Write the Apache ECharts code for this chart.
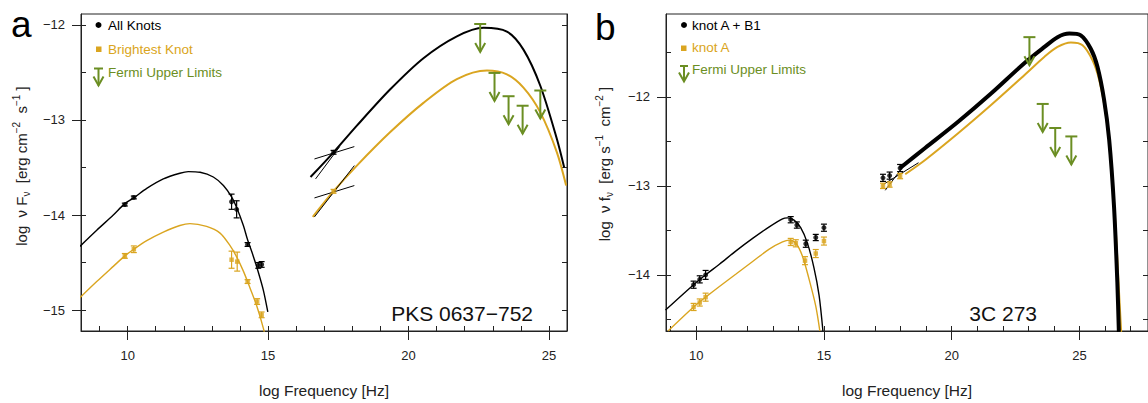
<!DOCTYPE html>
<html>
<head>
<meta charset="utf-8">
<script src="https://cdn.jsdelivr.net/npm/echarts@6/dist/echarts.min.js"></script>
<style>
  html, body { margin: 0; padding: 0; background: #fff; }
  #chart { width: 1148px; height: 403px; }
</style>
</head>
<body>
<div id="chart"></div>
<script>
// ---- panel a : PKS 0637-752 -------------------------------------------------
const aSyncAll = [[8.30,-14.33],[8.90,-14.16],[9.49,-14.00],[9.90,-13.88],[10.22,-13.82],[10.68,-13.72],[11.27,-13.62],[11.86,-13.56],[12.16,-13.543],[12.58,-13.55],[13.05,-13.60],[13.41,-13.69],[13.70,-13.81],[13.88,-13.92],[14.12,-14.11],[14.27,-14.26],[14.47,-14.43],[14.65,-14.60],[14.83,-14.79],[14.99,-15.02]];
const aSyncBright = [[8.30,-14.87],[8.90,-14.70],[9.49,-14.54],[9.90,-14.43],[10.22,-14.36],[10.68,-14.27],[11.27,-14.18],[11.86,-14.11],[12.22,-14.09],[12.81,-14.12],[13.29,-14.19],[13.64,-14.32],[13.88,-14.44],[14.12,-14.59],[14.36,-14.77],[14.60,-14.96],[14.83,-15.19],[14.95,-15.35]];
const aIcAll = [[16.51,-13.60],[17.33,-13.34],[18.16,-13.06],[19.34,-12.68],[20.53,-12.35],[21.72,-12.12],[22.67,-12.03],[23.50,-12.07],[24.09,-12.26],[24.69,-12.64],[25.28,-13.20],[25.54,-13.50]];
const aIcBright = [[16.59,-14.02],[17.33,-13.75],[18.16,-13.48],[19.34,-13.13],[20.53,-12.82],[21.72,-12.57],[22.79,-12.48],[23.50,-12.52],[24.09,-12.66],[24.69,-12.92],[25.28,-13.34],[25.61,-13.69]];

const aAllX = [9.90, 10.22, 13.70, 13.88, 14.27, 14.65, 14.77, 17.33];
const aAllY = [-13.89, -13.815, -13.86, -13.94, -14.31, -14.53, -14.52, -13.34];
const aAllErr = [0.015, 0.015, 0.08, 0.09, 0.02, 0.03, 0.03, 0.02];
const aBrightX = [9.90, 10.22, 13.70, 13.90, 14.27, 14.61, 14.77, 17.33];
const aBrightY = [-14.43, -14.36, -14.47, -14.49, -14.70, -14.91, -15.05, -13.75];
const aBrightErr = [0.025, 0.035, 0.09, 0.10, 0.02, 0.03, 0.03, 0.02];

// x-ray bowties: [x1, y1, x2, y2]
const aBowtie = [[16.65,-13.41,18.07,-13.28],[16.69,-13.62,17.55,-13.28],[16.65,-13.82,18.07,-13.69],[16.65,-14.02,18.07,-13.48]];

const aUlX = [22.55, 23.06, 23.56, 24.06, 24.69];
const aUlY = [-11.99, -12.505, -12.75, -12.85, -12.69];

// ---- panel b : 3C 273 -------------------------------------------------------
const bSyncAll = [[8.80,-14.395],[9.90,-14.11],[10.37,-14.00],[10.91,-13.88],[11.56,-13.73],[12.21,-13.59],[12.86,-13.46],[13.38,-13.37],[13.57,-13.36],[13.83,-13.385],[14.09,-13.47],[14.35,-13.64],[14.61,-13.92],[14.81,-14.23],[14.96,-14.63]];
const bSyncA = [[8.90,-14.63],[9.90,-14.36],[10.37,-14.25],[10.91,-14.13],[11.56,-13.99],[12.21,-13.85],[12.86,-13.71],[13.38,-13.63],[13.64,-13.61],[13.90,-13.645],[14.16,-13.79],[14.42,-14.05],[14.68,-14.35],[14.84,-14.63]];
const bIcAll = [[17.98,-12.80],[18.96,-12.575],[20.25,-12.28],[21.55,-11.96],[22.85,-11.62],[23.63,-11.44],[24.14,-11.33],[24.60,-11.29],[25.05,-11.31],[25.44,-11.46],[25.70,-11.66],[25.96,-12.03],[26.16,-12.48],[26.35,-13.23],[26.48,-14.08],[26.54,-14.64]];
const bIcA = [[18.18,-12.87],[18.96,-12.71],[20.25,-12.41],[21.55,-12.09],[22.85,-11.755],[23.63,-11.55],[24.14,-11.44],[24.66,-11.39],[25.12,-11.42],[25.51,-11.59],[25.77,-11.81],[26.02,-12.18],[26.22,-12.67],[26.41,-13.45],[26.54,-14.16],[26.63,-14.64]];

const bAllX = [9.90, 10.14, 10.37, 13.70, 13.94, 14.29, 14.68, 15.00, 17.31, 17.57, 17.98];
const bAllY = [-14.11, -14.05, -14.00, -13.38, -13.44, -13.65, -13.58, -13.47, -12.91, -12.885, -12.80];
const bAllErr = [0.04, 0.04, 0.05, 0.035, 0.035, 0.04, 0.035, 0.04, 0.04, 0.04, 0.04];
const bAX = [9.90, 10.14, 10.37, 13.70, 13.90, 14.26, 14.68, 15.00, 17.31, 17.57, 17.98];
const bAY = [-14.36, -14.31, -14.25, -13.63, -13.645, -13.84, -13.76, -13.62, -13.00, -12.985, -12.89];
const bAErr = [0.04, 0.04, 0.045, 0.04, 0.04, 0.045, 0.045, 0.045, 0.03, 0.03, 0.03];

const bBowtie = [[17.35,-12.98,18.70,-12.74],[17.40,-13.05,18.05,-12.80]];

const bUlX = [23.04, 23.56, 24.05, 24.68];
const bUlY = [-11.33, -12.08, -12.35, -12.445];

// ---- ticks -------------------------------------------------------------------
const aXMajor = [10, 15, 20, 25];
const aXMinor = [9,10,11,12,13,14,15,16,17,18,19,20,21,22,23,24,25];
const aYMajor = [-15, -14, -13, -12];
const aYMinor = [-15,-14.5,-14,-13.5,-13,-12.5,-12];
const bXMajor = [10, 15, 20, 25];
const bXMinor = [9,10,11,12,13,14,15,16,17,18,19,20,21,22,23,24,25,26,27];
const bYMajor = [-14, -13, -12];
const bYMinor = [-14.5,-14,-13.5,-13,-12.5,-12,-11.5];

const FONT = '"Liberation Sans", Arial, Helvetica, sans-serif';
const BLACK = '#000000';
const GOLD = '#DAA520';
const GREEN = '#6B8E23';
const AXIS = '#222222';

function xAxes(grid, min, max, major, minor) {
  return [
    {
      type: 'value', gridIndex: grid, min, max, position: 'bottom',
      axisLine: { show: true, lineStyle: { color: AXIS, width: 1 } },
      axisTick: { show: true, inside: false, length: 9, customValues: major, lineStyle: { color: AXIS } },
      axisLabel: { show: true, customValues: major, margin: 18, color: AXIS, fontSize: 13, fontFamily: FONT },
      splitLine: { show: false },
      name: 'log Frequency [Hz]', nameLocation: 'middle', nameGap: 51,
      nameTextStyle: { fontSize: 15.5, color: AXIS, fontFamily: FONT }
    },
    {
      type: 'value', gridIndex: grid, min, max, position: 'bottom',
      axisLine: { show: false },
      axisTick: { show: true, inside: true, length: 5, customValues: minor, lineStyle: { color: AXIS } },
      axisLabel: { show: false }, splitLine: { show: false }
    }
  ];
}

function yAxes(grid, min, max, major, minor) {
  return [
    {
      type: 'value', gridIndex: grid, min, max, position: 'left',
      axisLine: { show: true, lineStyle: { color: AXIS, width: 1 } },
      axisTick: { show: true, inside: false, length: 9, customValues: major, lineStyle: { color: AXIS } },
      axisLabel: { show: true, customValues: major, margin: 16, color: AXIS, fontSize: 13, fontFamily: FONT,
        formatter: (v) => String(v).replace('-', '\u2212') },
      splitLine: { show: false }
    },
    {
      type: 'value', gridIndex: grid, min, max, position: 'left',
      axisLine: { show: false },
      axisTick: { show: true, inside: true, length: 5, customValues: minor, lineStyle: { color: AXIS } },
      axisLabel: { show: false }, splitLine: { show: false }
    },
    {
      type: 'value', gridIndex: grid, min, max, position: 'right',
      axisLine: { show: true, lineStyle: { color: AXIS, width: 1 } },
      axisTick: { show: true, inside: true, length: 5, customValues: minor, lineStyle: { color: AXIS } },
      axisLabel: { show: false }, splitLine: { show: false }
    }
  ];
}

function curve(data, color, width, xi, yi) {
  return {
    type: 'line', data, xAxisIndex: xi, yAxisIndex: yi,
    showSymbol: false, symbol: 'none', smooth: 0.3,
    lineStyle: { color, width }, silent: true, z: 3
  };
}

function renderErr(params, api) {
  const x = api.value(0), y = api.value(1), e = api.value(2);
  const lo = api.coord([x, y - e]);
  const hi = api.coord([x, y + e]);
  const st = { stroke: api.visual('color'), lineWidth: 1.2, fill: null };
  const w = 3;
  return {
    type: 'group',
    children: [
      { type: 'line', shape: { x1: lo[0], y1: lo[1], x2: hi[0], y2: hi[1] }, style: st },
      { type: 'line', shape: { x1: lo[0] - w, y1: lo[1], x2: lo[0] + w, y2: lo[1] }, style: st },
      { type: 'line', shape: { x1: hi[0] - w, y1: hi[1], x2: hi[0] + w, y2: hi[1] }, style: st }
    ]
  };
}

function errBars(xs, ys, es, color, xi, yi) {
  return {
    type: 'custom', xAxisIndex: xi, yAxisIndex: yi, silent: true, z: 4,
    itemStyle: { color },
    encode: { x: 0, y: 1 },
    data: xs.map((x, i) => [x, ys[i], es[i]]),
    renderItem: renderErr
  };
}

function points(xs, ys, color, symbol, size, xi, yi) {
  return {
    type: 'scatter', xAxisIndex: xi, yAxisIndex: yi, silent: true, z: 5,
    symbol, symbolSize: size, itemStyle: { color },
    data: xs.map((x, i) => [x, ys[i]])
  };
}

function renderSeg(params, api) {
  const p1 = api.coord([api.value(0), api.value(1)]);
  const p2 = api.coord([api.value(2), api.value(3)]);
  return { type: 'line', shape: { x1: p1[0], y1: p1[1], x2: p2[0], y2: p2[1] },
    style: { stroke: BLACK, lineWidth: 1, fill: null } };
}

function bowties(segs, xi, yi) {
  return {
    type: 'custom', xAxisIndex: xi, yAxisIndex: yi, silent: true, z: 4,
    encode: { x: [0, 2], y: [1, 3] }, data: segs, renderItem: renderSeg
  };
}

function arrowShape(x, y, len, barHalf, stroke) {
  const st = { stroke, lineWidth: 2, fill: null };
  return [
    { type: 'line', shape: { x1: x - barHalf, y1: y, x2: x + barHalf, y2: y }, style: st },
    { type: 'line', shape: { x1: x, y1: y, x2: x, y2: y + len }, style: st },
    { type: 'polyline', shape: { points: [[x - 5, y + len - 9], [x, y + len], [x + 5, y + len - 9]] }, style: st }
  ];
}

function renderUL(params, api) {
  const p = api.coord([api.value(0), api.value(1)]);
  return { type: 'group', children: arrowShape(p[0], p[1], 28, 6, GREEN) };
}

function upperLimits(xs, ys, xi, yi) {
  return {
    type: 'custom', xAxisIndex: xi, yAxisIndex: yi, silent: true, z: 6,
    encode: { x: 0, y: 1 }, data: xs.map((x, i) => [x, ys[i]]), renderItem: renderUL
  };
}

function yTitle(x, y, main, sub, unitA, supA, unitB, supB) {
  return {
    type: 'text', x, y, rotation: Math.PI / 2,
    style: {
      text: `{t|log  \u03bd ${main}}{sub|\u03bd}{t|  [erg ${unitA}}{sup|${supA}}{t|  ${unitB}}{sup|${supB}}{t| ]}`,
      align: 'center', verticalAlign: 'middle',
      rich: {
        t: { fontSize: 15, fontFamily: FONT, fill: AXIS, lineHeight: 24 },
        sub: { fontSize: 10, fontFamily: FONT, fill: AXIS, lineHeight: 24, verticalAlign: 'bottom', padding: [0, 0, 2, 0] },
        sup: { fontSize: 10, fontFamily: FONT, fill: AXIS, lineHeight: 24, verticalAlign: 'top', padding: [2, 0, 0, 0] }
      }
    }
  };
}

function legendText(x, y, text, color) {
  return { type: 'text', x, y, style: { text, fill: color, fontSize: 13.5, fontFamily: FONT, align: 'left', verticalAlign: 'middle' } };
}

const graphics = [
  // panel letters
  { type: 'text', x: 11, y: 24, style: { text: 'a', fontSize: 37, fontFamily: FONT, fill: '#000', verticalAlign: 'middle' } },
  { type: 'text', x: 595, y: 27, style: { text: 'b', fontSize: 37, fontFamily: FONT, fill: '#000', verticalAlign: 'middle' } },
  // source names
  { type: 'text', x: 533, y: 313, style: { text: 'PKS 0637\u2212752', fontSize: 21, fontFamily: FONT, fill: '#111', align: 'right', verticalAlign: 'middle' } },
  { type: 'text', x: 1037, y: 313, style: { text: '3C 273', fontSize: 21, fontFamily: FONT, fill: '#111', align: 'right', verticalAlign: 'middle' } },
  // y titles
  yTitle(21, 166, 'F', 'ν', 'cm', '\u22122', 's', '\u22121'),
  yTitle(604, 164, 'f', 'ν', 's', '\u22121', 'cm', '\u22122'),
  // legend a
  { type: 'circle', shape: { cx: 98.5, cy: 25, r: 3 }, style: { fill: BLACK } },
  legendText(108, 25, 'All Knots', BLACK),
  { type: 'rect', shape: { x: 96, y: 46.5, width: 5.5, height: 5.5 }, style: { fill: GOLD } },
  legendText(108, 49, 'Brightest Knot', GOLD),
  { type: 'group', children: arrowShape(98.5, 68.5, 17, 4.5, GREEN) },
  legendText(108, 72.5, 'Fermi Upper Limits', GREEN),
  // legend b
  { type: 'circle', shape: { cx: 684, cy: 25, r: 3 }, style: { fill: BLACK } },
  legendText(692, 25, 'knot A + B1', BLACK),
  { type: 'rect', shape: { x: 681, y: 45.5, width: 5.5, height: 5.5 }, style: { fill: GOLD } },
  legendText(692, 47.5, 'knot A', GOLD),
  { type: 'group', children: arrowShape(684, 66, 15.5, 4, GREEN) },
  legendText(692, 69.5, 'Fermi Upper Limits', GREEN)
];

const chart = echarts.init(document.getElementById('chart'), null, { renderer: 'svg' });
chart.setOption({
  animation: false,
  backgroundColor: '#fff',
  grid: [
    { left: 81, top: 14, width: 486, height: 319, show: true, borderColor: AXIS, borderWidth: 1, backgroundColor: 'transparent' },
    { left: 666, top: 14, width: 484, height: 318, show: true, borderColor: AXIS, borderWidth: 1, backgroundColor: 'transparent' }
  ],
  xAxis: [
    ...xAxes(0, 8.34, 25.64, aXMajor, aXMinor),
    ...xAxes(1, 8.82, 27.68, bXMajor, bXMinor)
  ],
  yAxis: [
    ...yAxes(0, -15.22, -11.885, aYMajor, aYMinor),
    ...yAxes(1, -14.63, -11.07, bYMajor, bYMinor)
  ],
  series: [
    curve(aSyncAll, BLACK, 1.4, 0, 0),
    curve(aSyncBright, GOLD, 1.4, 0, 0),
    curve(aIcAll, BLACK, 2, 0, 0),
    curve(aIcBright, GOLD, 2, 0, 0),
    bowties(aBowtie, 0, 0),
    errBars(aAllX, aAllY, aAllErr, BLACK, 0, 0),
    errBars(aBrightX, aBrightY, aBrightErr, GOLD, 0, 0),
    points(aAllX, aAllY, BLACK, 'circle', 5, 0, 0),
    points(aBrightX, aBrightY, GOLD, 'rect', 4.5, 0, 0),
    upperLimits(aUlX, aUlY, 0, 0),

    curve(bSyncAll, BLACK, 1.4, 2, 3),
    curve(bSyncA, GOLD, 1.4, 2, 3),
    curve(bIcA, GOLD, 2, 2, 3),
    curve(bIcAll, BLACK, 4, 2, 3),
    bowties(bBowtie, 2, 3),
    errBars(bAllX, bAllY, bAllErr, BLACK, 2, 3),
    errBars(bAX, bAY, bAErr, GOLD, 2, 3),
    points(bAllX, bAllY, BLACK, 'circle', 5, 2, 3),
    points(bAX, bAY, GOLD, 'rect', 4.5, 2, 3),
    upperLimits(bUlX, bUlY, 2, 3)
  ],
  graphic: graphics
});
</script>
</body>
</html>
